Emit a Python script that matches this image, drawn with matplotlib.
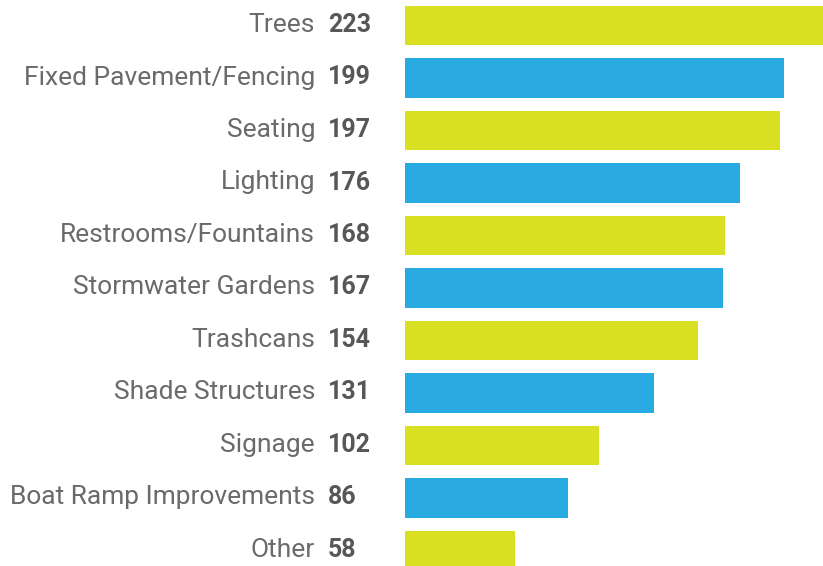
import matplotlib
matplotlib.use("Agg")
import matplotlib.pyplot as plt
import matplotlib.transforms as mtransforms

categories = ["Trees", "Fixed Pavement/Fencing", "Seating", "Lighting",
              "Restrooms/Fountains", "Stormwater Gardens", "Trashcans",
              "Shade Structures", "Signage", "Boat Ramp Improvements", "Other"]
values = [223, 199, 197, 176, 168, 167, 154, 131, 102, 86, 58]

YELLOW = "#D9E021"
BLUE = "#29ABE2"
colors = [YELLOW if i % 2 == 0 else BLUE for i in range(len(values))]

W, H = 823, 566
fig = plt.figure(figsize=(W / 100, H / 100), dpi=100)
x0 = 404.5 / W
ax = fig.add_axes([x0, 0, 1 - x0, 1])
ax.set_axis_off()

ypos = list(range(len(values)))
ax.barh(ypos, values, height=0.75, color=colors, edgecolor="none")

px_per_unit = 1.905
ax.set_xlim(0, (W - 404.5) / px_per_unit)
ax.set_ylim((H - 25.5) / 52.5, -25.5 / 52.5)

trans = mtransforms.blended_transform_factory(fig.transFigure, ax.transData)
for i, (c, v) in enumerate(zip(categories, values)):
    yb = i + 6.5 / 52.5
    fig.text(315 / W, yb, c, transform=trans, ha="right", va="baseline",
             fontsize=19, family="Roboto", color="#6a6a6a", fontweight="normal")
    fig.text(328 / W, yb, str(v), transform=trans, ha="left", va="baseline",
             fontsize=18, family="Roboto", color="#575757", fontweight="bold")

fig.savefig("out.png", dpi=100)
